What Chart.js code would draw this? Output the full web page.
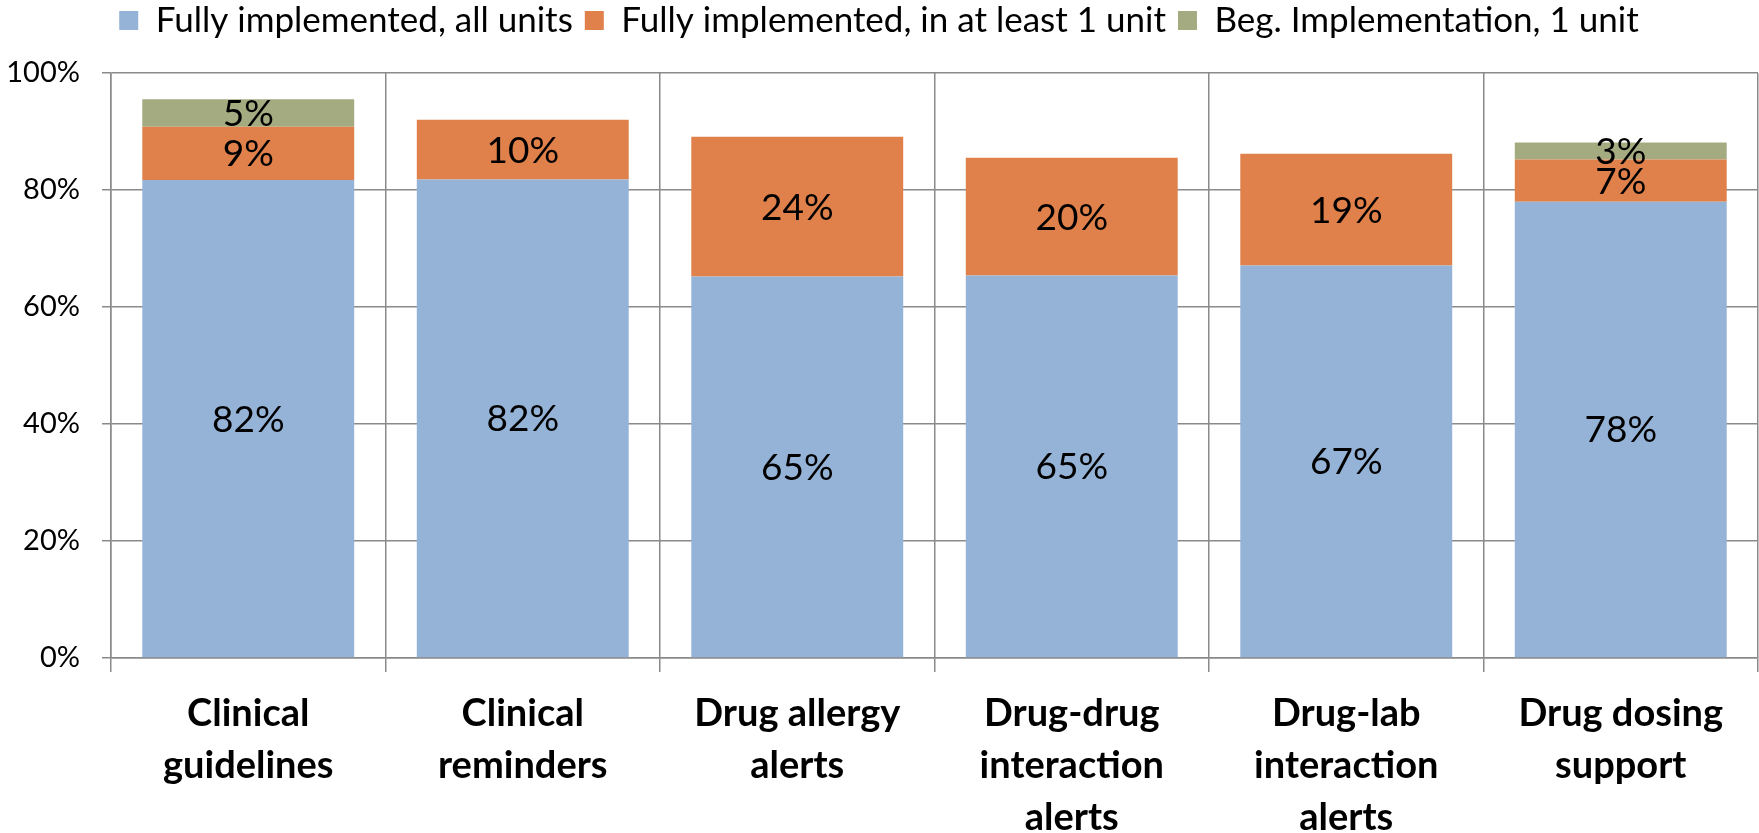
<!DOCTYPE html>
<html>
<head>
<meta charset="utf-8">
<script src="https://cdn.jsdelivr.net/npm/chart.js@4/dist/chart.umd.min.js"></script>
<style>
  html, body { margin: 0; padding: 0; background: #fff; }
  #wrap { width: 1759px; height: 833px; }
</style>
</head>
<body>
<div id="wrap"><canvas id="c" width="1759" height="833"></canvas></div>
<script>
const categories = [
  ['Clinical', 'guidelines'],
  ['Clinical', 'reminders'],
  ['Drug allergy', 'alerts'],
  ['Drug-drug', 'interaction', 'alerts'],
  ['Drug-lab', 'interaction', 'alerts'],
  ['Drug dosing', 'support']
];
const seriesNames = [
  'Fully implemented, all units',
  'Fully implemented, in at least 1 unit',
  'Beg. Implementation, 1 unit'
];
const fullyAllUnits = [81.7, 81.8, 65.2, 65.4, 67.1, 78.0];
const fullyAtLeastOne = [9.1, 10.2, 23.9, 20.1, 19.1, 7.2];
const begImplementation = [4.7, null, null, null, null, 2.9];
const yTicks = [0, 20, 40, 60, 80, 100];

const FONT = 'Lato, "Open Sans", "DejaVu Sans", sans-serif';
const GRID = '#8a8a8a';

const segmentLabels = {
  id: 'segmentLabels',
  afterDatasetsDraw(chart) {
    const ctx = chart.ctx;
    ctx.save();
    ctx.font = '37px ' + FONT;
    ctx.fillStyle = '#000';
    ctx.textAlign = 'center';
    ctx.textBaseline = 'middle';
    chart.data.datasets.forEach((ds, di) => {
      const meta = chart.getDatasetMeta(di);
      meta.data.forEach((el, i) => {
        const v = ds.data[i];
        if (v === null || v === undefined) return;
        const p = el.getProps(['x', 'y', 'base'], true);
        ctx.fillText(Math.round(v) + '%', p.x, (p.y + p.base) / 2 + 1);
      });
    });
    ctx.restore();
  }
};

new Chart(document.getElementById('c'), {
  type: 'bar',
  data: {
    labels: categories,
    datasets: [
      { label: seriesNames[0], data: fullyAllUnits, backgroundColor: '#95B3D7' },
      { label: seriesNames[1], data: fullyAtLeastOne, backgroundColor: '#E0804A' },
      { label: seriesNames[2], data: begImplementation, backgroundColor: '#A5AB81' }
    ]
  },
  options: {
    responsive: false,
    animation: false,
    devicePixelRatio: 1,
    layout: { padding: { left: 0, right: 1, top: -9, bottom: 0 } },
    datasets: { bar: { barPercentage: 0.772, categoryPercentage: 1.0 } },
    plugins: {
      legend: {
        position: 'top',
        weight: 1000,
        labels: {
          color: '#000',
          font: { family: FONT, size: 35 },
          boxWidth: 19,
          boxHeight: 19,
          padding: 12
        }
      },
      title: {
        display: true,
        text: '',
        weight: 500,
        font: { size: 10, lineHeight: 1.2 },
        padding: { top: 0, bottom: 13 }
      },
      tooltip: { enabled: false }
    },
    scales: {
      x: {
        stacked: true,
        offset: true,
        grid: { display: true, offset: true, color: GRID, lineWidth: 1.5, tickLength: 14, drawTicks: true },
        border: { display: true, color: GRID, width: 1.5 },
        ticks: {
          color: '#000',
          font: { family: FONT, size: 38, weight: 'bold', lineHeight: 52 / 38 },
          padding: 16,
          maxRotation: 0,
          autoSkip: false
        },
        afterFit(scale) { scale.height = 175; }
      },
      y: {
        stacked: true,
        min: 0,
        max: 100,
        afterBuildTicks(scale) { scale.ticks = yTicks.map(v => ({ value: v })); },
        grid: { color: GRID, lineWidth: 1.5, tickLength: 9, drawTicks: true },
        border: { display: true, color: GRID, width: 1.5 },
        ticks: {
          color: '#000',
          font: { family: FONT, size: 29 },
          padding: 22,
          callback: v => v + '%'
        },
        afterFit(scale) { scale.width = 111; }
      }
    }
  },
  plugins: [segmentLabels]
});
</script>
</body>
</html>
